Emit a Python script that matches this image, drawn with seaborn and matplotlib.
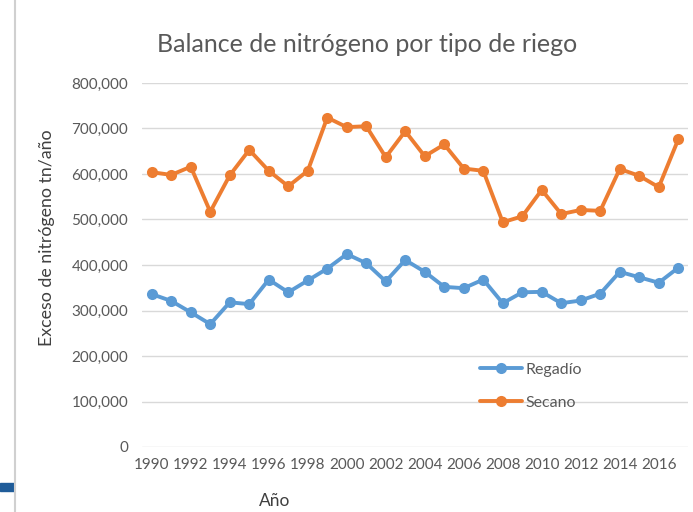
import matplotlib
matplotlib.use("Agg")
import matplotlib.pyplot as plt
import matplotlib.ticker as mticker
import seaborn as sns
import pandas as pd
from matplotlib.lines import Line2D
from matplotlib.patches import Rectangle

years = list(range(1990, 2018))
regadio = [336000, 321000, 296000, 270000, 318000, 314000, 368000, 340000, 366000, 392000,
           424000, 404000, 364000, 411000, 385000, 352000, 349000, 368000, 316000, 340000,
           341000, 316000, 322000, 337000, 385000, 373000, 361000, 394000]
secano = [604000, 598000, 616000, 517000, 597000, 653000, 607000, 573000, 607000, 724000,
          703000, 705000, 637000, 694000, 639000, 665000, 612000, 607000, 494000, 507000,
          565000, 512000, 521000, 519000, 611000, 596000, 571000, 676000]
series_names = ["Regadío", "Secano"]
colors = ["#5B9BD5", "#ED7D31"]
title = "Balance de nitrógeno por tipo de riego"
ylabel = "Exceso de nitrógeno tn/año"
xlabel = "Año"

df = pd.DataFrame({
    "Año": years * 2,
    "valor": regadio + secano,
    "serie": [series_names[0]] * len(years) + [series_names[1]] * len(years),
})

sns.set_theme(style="white")
plt.rcParams["font.family"] = ["Lato", "DejaVu Sans"]

fig = plt.figure(figsize=(6.93, 5.12), dpi=100)
ax = fig.add_axes([142 / 693, 1 - 447 / 512, (688 - 142) / 693, (447 - 83) / 512])

sns.lineplot(data=df, x="Año", y="valor", hue="serie", palette=colors,
             marker="o", markersize=8, markeredgewidth=0, linewidth=2.8,
             ax=ax, legend=False, zorder=3)

ax.set_xlim(1989.5, 2017.5)
ax.set_ylim(0, 800000)
ax.set_yticks(range(0, 800001, 100000))
ax.set_xticks(range(1990, 2017, 2))
ax.yaxis.set_major_formatter(mticker.FuncFormatter(lambda v, p: f"{int(v):,}"))
ax.grid(axis="y", color="#D9D9D9", linewidth=1.0)
ax.grid(axis="x", visible=False)
for s in ax.spines.values():
    s.set_visible(False)
ax.tick_params(axis="both", length=0, colors="#595959", labelsize=11)
ax.tick_params(axis="y", pad=10)
ax.tick_params(axis="x", pad=8)
ax.set_xlabel("")
ax.set_ylabel("")

fig.text(367 / 693, 1 - 45 / 512, title, ha="center", va="center",
         fontsize=18, color="#595959")
fig.text(47 / 693, 1 - 238 / 512, ylabel, ha="center", va="center",
         rotation=90, fontsize=12.8, color="#404040")
fig.text(275 / 693, 1 - 501 / 512, xlabel, ha="center", va="center",
         fontsize=12.5, color="#404040")

handles = [Line2D([0], [0], color=c, lw=2.8, marker="o", markersize=8,
                  markeredgewidth=0) for c in colors]
leg = ax.legend(handles, series_names, loc="upper left",
                bbox_to_anchor=((466 - 142) / 546, (447 - 348) / 364),
                frameon=False, fontsize=11.5, labelspacing=1.2,
                handlelength=2.6, handletextpad=0.2, labelcolor="#595959")

# screenshot border artifacts
fig.add_artist(Line2D([15 / 693, 15 / 693], [0, 1], color="#D0D0D0", lw=1.5,
                      transform=fig.transFigure))
fig.add_artist(Rectangle((0, 1 - 491 / 512), 14 / 693, 8 / 512,
                         transform=fig.transFigure, color="#1F5C99"))

fig.savefig("out.png", dpi=100)
